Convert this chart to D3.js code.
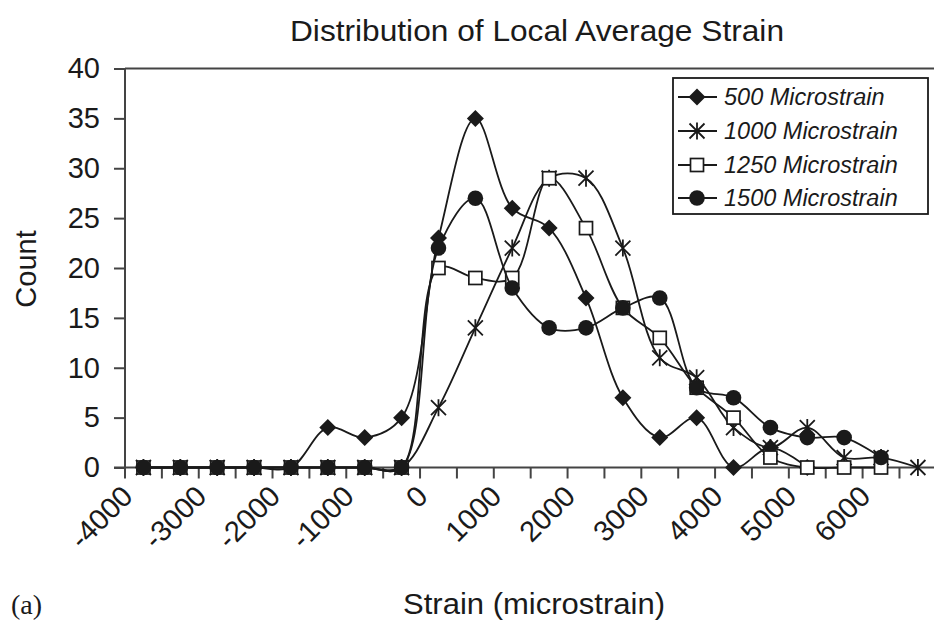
<!DOCTYPE html>
<html>
<head>
<meta charset="utf-8">
<script src="https://cdn.jsdelivr.net/npm/d3@7"></script>
<style>
  html, body { margin: 0; padding: 0; background: #fff; }
  svg { display: block; }
  text { font-family: "Liberation Sans", Arial, sans-serif; fill: #1a1a1a; }
</style>
</head>
<body>
<svg id="chart" width="934" height="626"></svg>
<script>
// strain bins (categories), every other one is labelled
var strainBins = [-4000, -3500, -3000, -2500, -2000, -1500, -1000, -500, 0, 500, 1000,
    1500, 2000, 2500, 3000, 3500, 4000, 4500, 5000, 5500, 6000, 6500];
var labelledBins = [-4000, -3000, -2000, -1000, 0, 1000, 2000, 3000, 4000, 5000, 6000];
var countTicks = [0, 5, 10, 15, 20, 25, 30, 35, 40];

// counts per bin (series end where the markers end)
var count500 = [0, 0, 0, 0, 0, 4, 3, 5, 23, 35, 26, 24, 17, 7, 3, 5, 0, 2, 0];
var count1000 = [0, 0, 0, 0, 0, 0, 0, 0, 6, 14, 22, 29, 29, 22, 11, 9, 4, 2, 4, 1, 1, 0];
var count1250 = [0, 0, 0, 0, 0, 0, 0, 0, 20, 19, 19, 29, 24, 16, 13, 8, 5, 1, 0, 0, 0];
var count1500 = [0, 0, 0, 0, 0, 0, 0, 0, 22, 27, 18, 14, 14, 16, 17, 8, 7, 4, 3, 3, 1];

var seriesNames = ["500 Microstrain", "1000 Microstrain", "1250 Microstrain", "1500 Microstrain"];
var seriesMarkers = ["diamond", "star", "square", "circle"];

var ink = "#1a1a1a";
var svg = d3.select("#chart");

var margin = {left: 125, top: 68.5, bottom: 467.5};
var step = 36.88;

var x = d3.scaleBand()
    .domain(strainBins)
    .range([margin.left, margin.left + step * strainBins.length])
    .padding(0);

var y = d3.scaleLinear()
    .domain([0, 40])
    .range([margin.bottom, margin.top]);

var cx = function (c) { return x(c) + x.bandwidth() / 2; };

// title
svg.append("text")
    .attr("x", 537).attr("y", 41)
    .attr("text-anchor", "middle")
    .attr("font-size", 29)
    .attr("textLength", 494)
    .attr("lengthAdjust", "spacingAndGlyphs")
    .text("Distribution of Local Average Strain");

// top border of the plot area
svg.append("line")
    .attr("x1", margin.left).attr("x2", 934)
    .attr("y1", y(40)).attr("y2", y(40))
    .attr("stroke", "#444").attr("stroke-width", 2);

// y axis
var yAxis = d3.axisLeft(y).tickValues(countTicks).tickSize(11).tickPadding(14);
var gy = svg.append("g")
    .attr("transform", "translate(" + margin.left + ",0)")
    .call(yAxis);
gy.select(".domain").remove();
gy.append("line")
    .attr("x1", 0).attr("x2", 0)
    .attr("y1", y(40)).attr("y2", margin.bottom + 11)
    .attr("stroke", "#444").attr("stroke-width", 2);
gy.selectAll(".tick line").attr("stroke", "#444").attr("stroke-width", 2);
gy.selectAll(".tick text")
    .attr("font-size", 29)
    .attr("fill", ink)
    .style("font-family", "'Liberation Sans', Arial, sans-serif");

// x axis: line at zero, ticks between categories
svg.append("line")
    .attr("x1", margin.left - 11).attr("x2", 934)
    .attr("y1", y(0)).attr("y2", y(0))
    .attr("stroke", "#444").attr("stroke-width", 2);

svg.append("g").selectAll("line")
    .data(strainBins.slice(1))
    .enter().append("line")
    .attr("x1", d => x(d)).attr("x2", d => x(d))
    .attr("y1", y(0)).attr("y2", y(0) + 11)
    .attr("stroke", "#444").attr("stroke-width", 2);

svg.append("g").selectAll("text")
    .data(labelledBins)
    .enter().append("text")
    .attr("transform", d => "translate(" + (cx(d) - 9) + "," + 498 + ") rotate(-45)")
    .attr("text-anchor", "end")
    .attr("font-size", 29)
    .text(d => d);

// axis titles
svg.append("text")
    .attr("transform", "translate(36,269) rotate(-90)")
    .attr("text-anchor", "middle")
    .attr("font-size", 29)
    .text("Count");

svg.append("text")
    .attr("x", 534).attr("y", 614)
    .attr("text-anchor", "middle")
    .attr("font-size", 29)
    .attr("textLength", 262)
    .attr("lengthAdjust", "spacingAndGlyphs")
    .text("Strain (microstrain)");

svg.append("text")
    .attr("x", 11).attr("y", 614)
    .attr("font-size", 28)
    .style("font-family", "'Liberation Serif', 'Times New Roman', serif")
    .text("(a)");

// markers
function drawMarker(g, type, px, py) {
    if (type === "diamond") {
        g.append("path")
            .attr("d", "M" + px + "," + (py - 8.5) + "L" + (px + 8.5) + "," + py + "L" + px + "," + (py + 8.5) + "L" + (px - 8.5) + "," + py + "Z")
            .attr("fill", ink);
    } else if (type === "star") {
        var r = 7.5;
        g.append("path")
            .attr("d", "M" + (px - r) + "," + (py - r) + "L" + (px + r) + "," + (py + r) +
                "M" + (px - r) + "," + (py + r) + "L" + (px + r) + "," + (py - r) +
                "M" + px + "," + (py - r - 1) + "L" + px + "," + (py + r + 1))
            .attr("stroke", ink).attr("stroke-width", 1.8).attr("fill", "none");
    } else if (type === "square") {
        g.append("rect")
            .attr("x", px - 6.5).attr("y", py - 6.5)
            .attr("width", 13).attr("height", 13)
            .attr("fill", "#fff").attr("stroke", ink).attr("stroke-width", 1.7);
    } else {
        g.append("circle")
            .attr("cx", px).attr("cy", py).attr("r", 7.8)
            .attr("fill", ink);
    }
}

var allSeries = [count500, count1000, count1250, count1500];

var line = d3.line()
    .x(d => cx(d.bin))
    .y(d => y(d.value))
    .curve(d3.curveCatmullRom.alpha(0.5));

var plot = svg.append("g");
allSeries.forEach(function (values, i) {
    var pts = values.map(function (v, j) { return {bin: strainBins[j], value: v}; });
    var g = plot.append("g");
    g.append("path")
        .datum(pts)
        .attr("d", line)
        .attr("fill", "none")
        .attr("stroke", ink)
        .attr("stroke-width", 1.8);
    pts.forEach(function (p) {
        drawMarker(g, seriesMarkers[i], cx(p.bin), y(p.value));
    });
});

// legend
var legend = svg.append("g");
legend.append("rect")
    .attr("x", 673).attr("y", 78)
    .attr("width", 255).attr("height", 136)
    .attr("fill", "#fff").attr("stroke", ink).attr("stroke-width", 1.8);

var legendRows = [97, 131, 165, 198];
seriesNames.forEach(function (name, i) {
    var ly = legendRows[i];
    legend.append("line")
        .attr("x1", 678).attr("x2", 717)
        .attr("y1", ly).attr("y2", ly)
        .attr("stroke", ink).attr("stroke-width", 1.8);
    drawMarker(legend, seriesMarkers[i], 697, ly);
    legend.append("text")
        .attr("x", 724).attr("y", ly + 8)
        .attr("font-size", 23.5)
        .attr("font-style", "italic")
        .text(name);
});
</script>
</body>
</html>
